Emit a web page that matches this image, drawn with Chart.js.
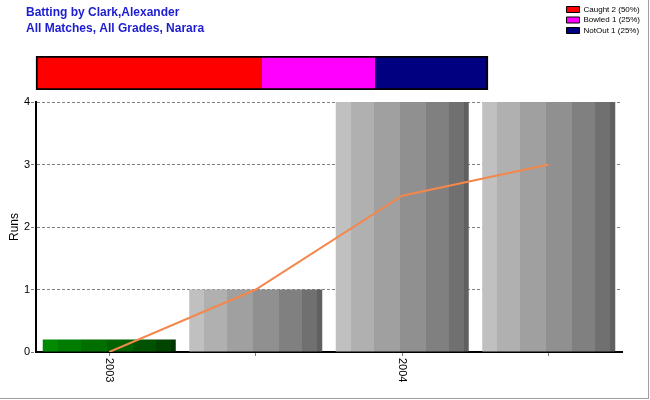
<!DOCTYPE html>
<html>
<head>
<meta charset="utf-8">
<script src="https://cdn.jsdelivr.net/npm/chart.js@4"></script>
<style>
  html, body { margin: 0; padding: 0; background: #fff; }
  #page { position: relative; width: 650px; height: 400px; overflow: hidden; }
  #mainBox { position: absolute; left: 0; top: 0; width: 650px; height: 400px; }
  #topBox { position: absolute; left: 26px; top: 0; width: 624px; height: 90px; }
  #frame { position: absolute; left: 0; top: 0; width: 648px; height: 398px;
           border-right: 1px solid #a0a0a0; border-bottom: 1px solid #a0a0a0; pointer-events: none; }
</style>
</head>
<body>
<div id="page">
  <div id="mainBox"><canvas id="mainChart"></canvas></div>
  <div id="topBox"><canvas id="topChart"></canvas></div>
  <div id="frame"></div>
</div>
<script>
// chart values
const years = ['2003', '', '2004', ''];
const runs = [0.2, 1, 4, 4];
const average = [0, 1, 2.5, 3];

const dismissalNames = ['Caught', 'Bowled', 'NotOut'];
const dismissalCounts = [2, 1, 1];
const dismissalColours = ['#ff0000', '#ff00ff', '#000080'];

const titleLines = ['Batting by Clark,Alexander', 'All Matches, All Grades, Narara'];

// striped fills for the bars
const grayStripes = ['#c0c0c0', '#b0b0b0', '#a0a0a0', '#909090', '#808080', '#707070', '#606060'];
const greenStripes = ['#008a00', '#007d00', '#006f00', '#006100', '#005200', '#004400', '#003400'];
const stripeStops = [0, 0.113, 0.286, 0.481, 0.677, 0.85, 0.962, 1];
const barStripes = [greenStripes, grayStripes, grayStripes, grayStripes];
const barPct = 0.908;

function stripedFill(context) {
  const chart = context.chart;
  const xScale = chart.scales.x;
  const colours = barStripes[context.dataIndex] || grayStripes;
  if (!xScale || context.dataIndex === undefined || !xScale.width) return colours[2];
  const centre = xScale.getPixelForValue(context.dataIndex);
  const half = (xScale.width / years.length) * barPct / 2;
  const g = chart.ctx.createLinearGradient(centre - half, 0, centre + half, 0);
  colours.forEach(function(c, i) {
    g.addColorStop(stripeStops[i], c);
    g.addColorStop(stripeStops[i + 1], c);
  });
  return g;
}

// x labels read top to bottom, so draw them turned the other way
const yearLabels = {
  id: 'yearLabels',
  afterDraw(chart) {
    const xs = chart.scales.x;
    const ctx = chart.ctx;
    ctx.save();
    ctx.font = '11px Arial, "Liberation Sans"';
    ctx.fillStyle = '#000';
    ctx.textAlign = 'left';
    ctx.textBaseline = 'middle';
    years.forEach(function(label, i) {
      if (!label) return;
      ctx.save();
      ctx.translate(xs.getPixelForValue(i), xs.top + 6);
      ctx.rotate(Math.PI / 2);
      ctx.fillText(label, 0, 0);
      ctx.restore();
    });
    ctx.restore();
  }
};

Chart.defaults.font.family = 'Arial, "Liberation Sans", sans-serif';

new Chart(document.getElementById('mainChart'), {
  type: 'bar',
  data: {
    labels: years,
    datasets: [{
      type: 'line',
      label: 'Average',
      data: average,
      borderColor: '#f4874b',
      backgroundColor: '#f4874b',
      borderWidth: 2,
      pointRadius: 0,
      tension: 0,
      order: 0
    }, {
      label: 'Runs',
      data: runs,
      backgroundColor: stripedFill,
      borderWidth: 0,
      barPercentage: 1,
      categoryPercentage: barPct,
      order: 1
    }]
  },
  options: {
    responsive: true,
    maintainAspectRatio: false,
    animation: false,
    layout: { padding: { left: 0, top: 102, right: 28, bottom: 0 } },
    plugins: {
      legend: { display: false },
      tooltip: { enabled: false }
    },
    scales: {
      x: {
        grid: { offset: false, drawOnChartArea: false, tickLength: 4, color: '#808080' },
        border: { color: '#000', width: 2 },
        ticks: { display: false },
        afterFit: function(scale) { scale.height = 48; }
      },
      y: {
        min: 0,
        max: 4,
        ticks: { stepSize: 1, color: '#000', font: { size: 11 }, padding: 1 },
        grid: { color: '#808080', tickLength: 5, tickColor: '#808080', tickBorderDash: [3, 2] },
        border: { color: '#000', width: 2, dash: [3, 2] },
        title: { display: true, text: 'Runs', color: '#000', font: { size: 12 }, padding: { top: 7, bottom: 0 } },
        afterFit: function(scale) { scale.width = 36; }
      }
    }
  },
  plugins: [yearLabels]
});

const total = dismissalCounts.reduce(function(a, b) { return a + b; }, 0);

const topChart = new Chart(document.getElementById('topChart'), {
  type: 'bar',
  data: {
    labels: ['Dismissals'],
    datasets: dismissalNames.map(function(name, i) {
      const last = dismissalNames.length - 1;
      return {
        label: name,
        data: [dismissalCounts[i]],
        backgroundColor: dismissalColours[i],
        borderColor: '#000',
        borderWidth: { top: 2, bottom: 2, left: i === 0 ? 2 : 0, right: i === last ? 2 : 0 },
        borderSkipped: false,
        barPercentage: 1,
        categoryPercentage: 1
      };
    })
  },
  options: {
    indexAxis: 'y',
    responsive: true,
    maintainAspectRatio: false,
    animation: false,
    layout: { padding: { left: 0, top: 3, right: 0, bottom: 0 } },
    plugins: {
      tooltip: { enabled: false },
      title: {
        display: true,
        text: titleLines,
        align: 'start',
        fullSize: false,
        color: '#1c1cd0',
        font: { size: 12, weight: 'bold', lineHeight: 1.3333 },
        padding: { top: 2, bottom: 19 }
      },
      legend: {
        position: 'right',
        align: 'start',
        maxWidth: 88,
        onClick: null,
        labels: {
          boxWidth: 13,
          boxHeight: 6,
          padding: 2.5,
          color: '#222',
          font: { size: 8 },
          generateLabels: function() {
            return dismissalNames.map(function(name, i) {
              return {
                text: name + ' ' + dismissalCounts[i] + ' (' + Math.round(dismissalCounts[i] / total * 100) + '%)',
                fillStyle: dismissalColours[i],
                strokeStyle: '#000',
                lineWidth: 1,
                hidden: false,
                datasetIndex: i
              };
            });
          }
        }
      }
    },
    scales: {
      x: { stacked: true, display: false, min: 0, max: total },
      y: { stacked: true, display: false }
    }
  }
});

// pin the stacked bar so that 0..total spans page x 36..488 on whole pixels
(function() {
  const ca = topChart.chartArea;
  const s = 452 / total;
  const min = -(10 - ca.left) / s;
  topChart.options.scales.x.min = min;
  topChart.options.scales.x.max = min + (ca.right - ca.left) / s;
  topChart.update('none');
})();
</script>
</body>
</html>
